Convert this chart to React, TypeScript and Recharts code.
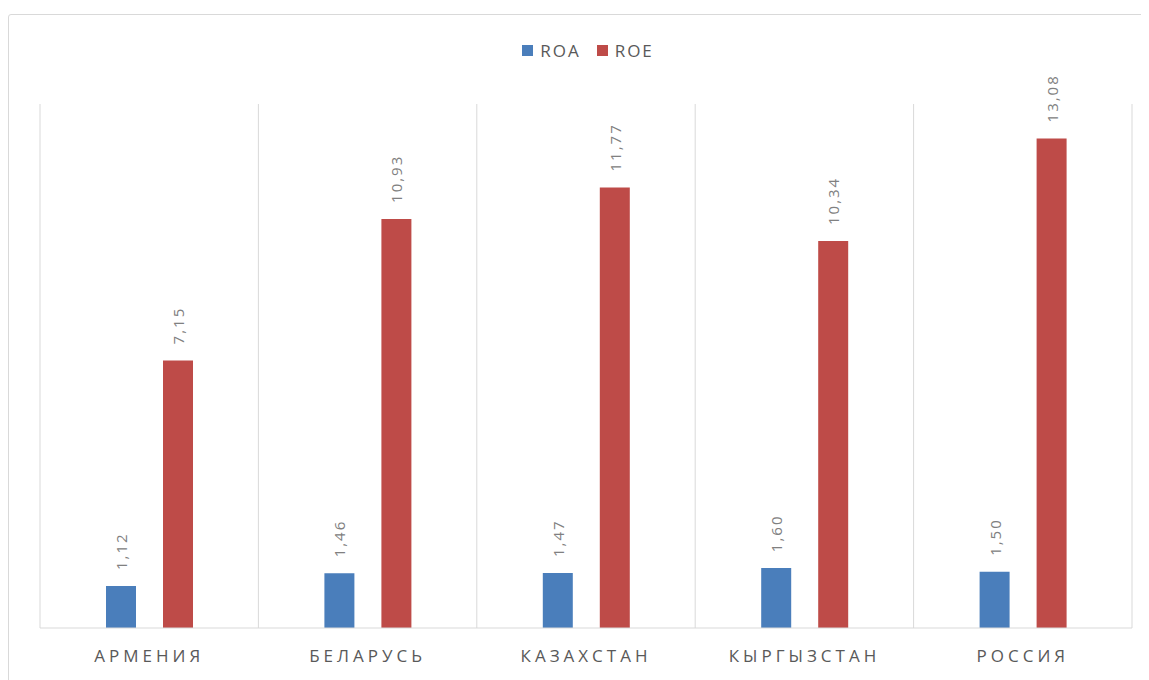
import React from 'react'
import {
  BarChart,
  Bar,
  XAxis,
  YAxis,
  CartesianGrid,
  Legend,
  LabelList,
} from 'recharts'

const countries = ['АРМЕНИЯ', 'БЕЛАРУСЬ', 'КАЗАХСТАН', 'КЫРГЫЗСТАН', 'РОССИЯ']
const roa = [1.12, 1.46, 1.47, 1.6, 1.5]
const roe = [7.15, 10.93, 11.77, 10.34, 13.08]

const data = countries.map((name, i) => ({ name, ROA: roa[i], ROE: roe[i] }))

const font = '"Open Sans", sans-serif'
const fmt = (v: number) => v.toFixed(2).replace('.', ',')

function RotatedLabel(props: any) {
  const { x, y, width, value } = props
  const cx = x + width / 2
  const cy = y - 16
  return (
    <text
      x={cx}
      y={cy}
      transform={`rotate(-90 ${cx} ${cy})`}
      textAnchor="start"
      dominantBaseline="central"
      fill="#808080"
      fontSize={15}
      letterSpacing={2}
      fontFamily={font}
    >
      {fmt(value)}
    </text>
  )
}

function LegendContent(props: any) {
  const { payload } = props
  return (
    <div style={{ display: 'flex', justifyContent: 'center', gap: 16, fontFamily: font, fontSize: 17, letterSpacing: 2, lineHeight: '23px', paddingLeft: 4 }}>
      {(payload || []).map((p: any) => (
        <div key={p.value} style={{ display: 'flex', alignItems: 'center', color: '#595959' }}>
          <span style={{ display: 'inline-block', width: 11, height: 11, background: p.color, marginRight: 7 }} />
          {p.value}
        </div>
      ))}
    </div>
  )
}

export default function App() {
  return (
    <div style={{ position: 'relative', width: 1141, height: 672 }}>
      <div
        style={{
          position: 'absolute',
          left: 0,
          top: 6,
          width: 1160,
          height: 700,
          border: '1px solid #d9d9d9',
          borderRadius: 3,
          boxSizing: 'border-box',
        }}
      />
      <BarChart
        width={1141}
        height={672}
        data={data}
        margin={{ top: 73, right: 17, bottom: 12, left: 32 }}
        barSize={30}
        barGap={27}
        style={{ position: 'absolute', left: 0, top: 0 }}
      >
        <CartesianGrid
          horizontal={false}
          stroke="#d9d9d9"
          verticalCoordinatesGenerator={({ offset }: any) =>
            countries
              .map((_, i) => offset.left + (i * offset.width) / countries.length)
              .concat(offset.left + offset.width)
          }
        />
        <XAxis
          dataKey="name"
          axisLine={{ stroke: '#d9d9d9' }}
          tickLine={false}
          height={40}
          tick={{ fill: '#595959', fontSize: 17, fontFamily: font, letterSpacing: 4, dy: 14 }}
        />
        <YAxis hide domain={[0, 14]} />
        <Legend
          verticalAlign="top"
          align="center"
          content={LegendContent}
          wrapperStyle={{ top: 31 }}
        />
        <Bar dataKey="ROA" fill="#4a7ebb" isAnimationActive={false}>
          <LabelList dataKey="ROA" content={RotatedLabel} />
        </Bar>
        <Bar dataKey="ROE" fill="#be4b48" isAnimationActive={false}>
          <LabelList dataKey="ROE" content={RotatedLabel} />
        </Bar>
      </BarChart>
    </div>
  )
}
